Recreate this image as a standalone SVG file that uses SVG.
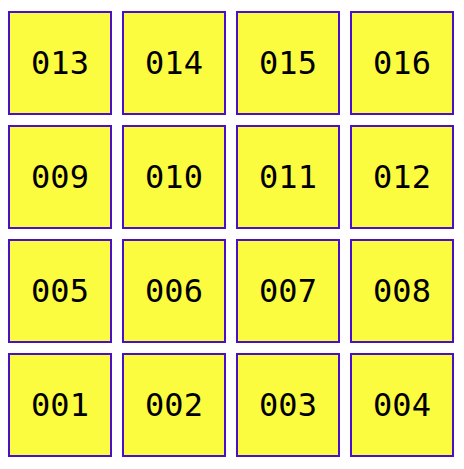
<svg xmlns="http://www.w3.org/2000/svg" width="464" height="469" viewBox="0 0 464 469">
<style>
.box rect{fill:#fbfb3f;stroke:#4a10c8;stroke-width:2}
.box text{font-family:"DejaVu Sans Mono",monospace;font-size:32px;fill:#000;text-anchor:middle}
</style>
<rect width="464" height="469" fill="#fff"/>
<g id="connectors"/>
<g id="n013" class="box"><rect x="9" y="12" width="102" height="102"/><text x="60" y="74">013</text></g>
<g id="n014" class="box"><rect x="123" y="12" width="102" height="102"/><text x="174" y="74">014</text></g>
<g id="n015" class="box"><rect x="237" y="12" width="102" height="102"/><text x="288" y="74">015</text></g>
<g id="n016" class="box"><rect x="351" y="12" width="102" height="102"/><text x="402" y="74">016</text></g>
<g id="n009" class="box"><rect x="9" y="126" width="102" height="102"/><text x="60" y="188">009</text></g>
<g id="n010" class="box"><rect x="123" y="126" width="102" height="102"/><text x="174" y="188">010</text></g>
<g id="n011" class="box"><rect x="237" y="126" width="102" height="102"/><text x="288" y="188">011</text></g>
<g id="n012" class="box"><rect x="351" y="126" width="102" height="102"/><text x="402" y="188">012</text></g>
<g id="n005" class="box"><rect x="9" y="240" width="102" height="102"/><text x="60" y="302">005</text></g>
<g id="n006" class="box"><rect x="123" y="240" width="102" height="102"/><text x="174" y="302">006</text></g>
<g id="n007" class="box"><rect x="237" y="240" width="102" height="102"/><text x="288" y="302">007</text></g>
<g id="n008" class="box"><rect x="351" y="240" width="102" height="102"/><text x="402" y="302">008</text></g>
<g id="n001" class="box"><rect x="9" y="354" width="102" height="102"/><text x="60" y="416">001</text></g>
<g id="n002" class="box"><rect x="123" y="354" width="102" height="102"/><text x="174" y="416">002</text></g>
<g id="n003" class="box"><rect x="237" y="354" width="102" height="102"/><text x="288" y="416">003</text></g>
<g id="n004" class="box"><rect x="351" y="354" width="102" height="102"/><text x="402" y="416">004</text></g>
</svg>
